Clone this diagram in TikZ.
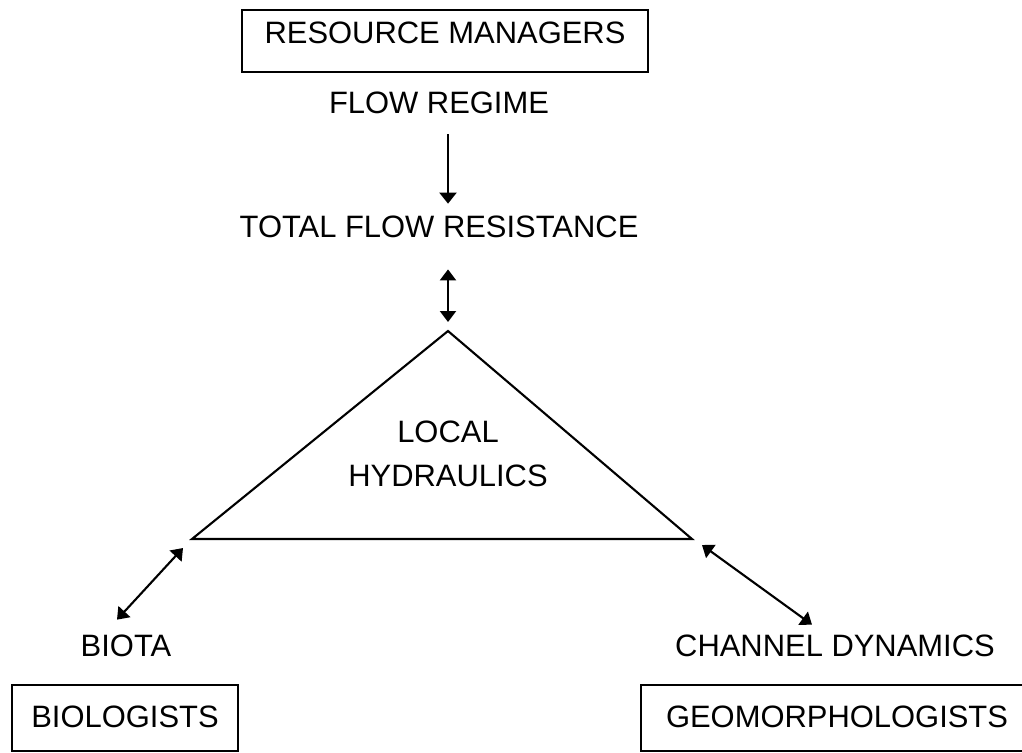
\documentclass[tikz,border=0pt]{standalone}
\usepackage{fontspec}
\setmainfont{Liberation Sans}
\usetikzlibrary{arrows.meta}

\begin{document}
\begin{tikzpicture}[
  line/.style={draw=black,line width=0.6pt},
  arrow/.style={line,-{Triangle[length=1.1mm,width=1.7mm]}},
  dbl/.style={line,{Triangle[length=1.1mm,width=1.6mm]}-{Triangle[length=1.1mm,width=1.6mm]}},
  label/.style={font=\fontsize{8.8}{12.5}\selectfont,text=black},
  mgrbox/.style={label,draw=black,line width=0.7pt,inner sep=0pt,text height=3.3mm,text depth=2.9mm},
  grpbox/.style={label,draw=black,line width=0.7pt,inner sep=0pt,text height=4.2mm,text depth=2.4mm},
]
\useasboundingbox (0,0) rectangle (10.22,-7.52);
\clip (0,0) rectangle (10.22,-7.52);
\fill[white] (0,0) rectangle (10.22,-7.52);
% managers and flow
\node[mgrbox,minimum width=4.06cm] (managers) at (4.45,-0.41) {RESOURCE MANAGERS};
\node[label] (regime) at (4.39,-1.03) {FLOW REGIME};
\node[label] (resist) at (4.39,-2.27) {TOTAL FLOW RESISTANCE};
% triangle
\coordinate (apex) at (4.48,-3.31);
\coordinate (lc) at (1.92,-5.39);
\coordinate (rc) at (6.92,-5.39);
\draw[line] (apex) -- (lc) -- (rc) -- cycle;
\node[label,align=center] (hydraulics) at (4.48,-4.54) {LOCAL\\HYDRAULICS};
\draw[arrow,shorten <=0.8mm] (regime.south -| apex) -- (resist.north -| apex);
\draw[dbl,shorten <=1.9mm,shorten >=0.9mm] (resist.south -| apex) -- (apex);
% biota and channel
\node[label] (biota) at (1.26,-6.46) {BIOTA};
\node[label] (channel) at (8.35,-6.46) {CHANNEL DYNAMICS};
\draw[dbl] ([xshift=-0.9mm,yshift=0.3mm]biota.north) -- ([shift={(-0.9mm,-0.9mm)}]lc);
\draw[dbl] ([shift={(1mm,-0.6mm)}]rc) -- ([xshift=-2.3mm,yshift=-0.2mm]channel.north);
% groups
\node[grpbox,minimum width=2.26cm] (biologists) at (1.25,-7.18) {BIOLOGISTS};
\node[grpbox,minimum width=3.92cm] (geomorph) at (8.37,-7.18) {GEOMORPHOLOGISTS};
\end{tikzpicture}
\end{document}
